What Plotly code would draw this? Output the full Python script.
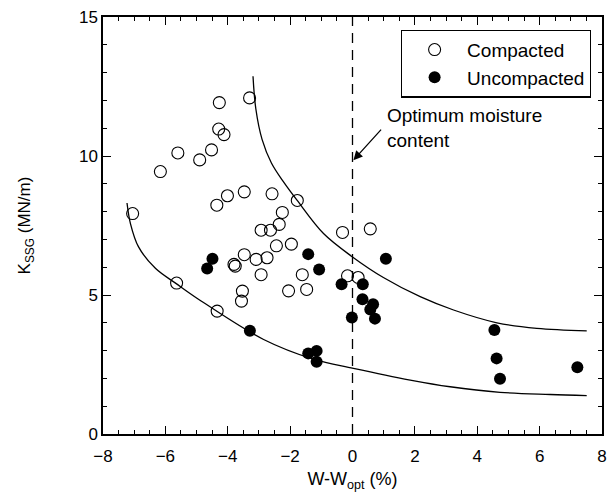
import plotly.graph_objects as go

# Compacted samples
comp_x = [-3.30, -4.27, -4.29, -4.12, -5.60, -4.52, -4.90, -6.16, -7.05, -4.35,
          -4.01, -3.47, -2.58, -1.77, -2.25, -2.35, -2.93, -2.63, -1.96, -2.44,
          -3.47, -3.09, -2.74, -3.80, -3.76, -2.93, -1.61, -3.53, -3.56, -2.05,
          -1.47, -5.64, -4.34, -0.32, 0.57, -0.16, 0.18]
comp_y = [12.09, 11.92, 10.97, 10.77, 10.11, 10.22, 9.86, 9.44, 7.93, 8.23,
          8.57, 8.71, 8.64, 8.40, 7.97, 7.54, 7.33, 7.33, 6.83, 6.77,
          6.45, 6.28, 6.34, 6.10, 6.04, 5.73, 5.73, 5.14, 4.78, 5.15,
          5.20, 5.43, 4.42, 7.25, 7.38, 5.69, 5.63]

# Uncompacted samples
unc_x = [-4.49, -4.66, -1.42, -1.07, -3.29, -1.42, -1.15, -1.15, -0.35, 1.07,
         0.33, 0.32, 0.66, 0.57, 0.72, -0.02, 4.55, 4.62, 4.73, 7.21]
unc_y = [6.30, 5.95, 6.47, 5.92, 3.71, 2.90, 2.99, 2.60, 5.39, 6.30,
         5.39, 4.85, 4.67, 4.48, 4.15, 4.19, 3.74, 2.72, 1.99, 2.40]

# Envelope curves
upper_x = [-3.19, -3.10, -2.90, -2.60, -2.20, -1.78, -0.93, 0.00, 0.99, 2.17, 3.24, 4.63, 5.91, 7.51]
upper_y = [12.87, 11.70, 10.60, 9.75, 9.05, 8.41, 7.21, 6.37, 5.63, 4.94, 4.46, 4.00, 3.80, 3.71]
lower_x = [-7.23, -7.12, -6.86, -6.32, -5.64, -4.94, -2.85, -1.25, 0.03, 1.85, 3.13, 4.73, 6.34, 7.51]
lower_y = [8.31, 7.57, 6.73, 5.96, 5.40, 4.85, 3.40, 2.69, 2.36, 1.94, 1.70, 1.50, 1.42, 1.38]

optimum_x = 0
x_range = [-8, 8]
y_range = [0, 15]

FONT = "Arial, Liberation Sans, sans-serif"

fig = go.Figure()
fig.add_trace(go.Scatter(x=upper_x, y=upper_y, mode="lines", line=dict(color="black", width=1.3, shape="spline"),
                         showlegend=False, hoverinfo="skip"))
fig.add_trace(go.Scatter(x=lower_x, y=lower_y, mode="lines", line=dict(color="black", width=1.3, shape="spline"),
                         showlegend=False, hoverinfo="skip"))
fig.add_trace(go.Scatter(x=[optimum_x, optimum_x], y=y_range, mode="lines",
                         line=dict(color="black", width=1.3, dash="10px,7px"),
                         showlegend=False, hoverinfo="skip"))
fig.add_trace(go.Scatter(x=comp_x, y=comp_y, mode="markers", name="Compacted",
                         marker=dict(symbol="circle-open", size=12, color="black", line=dict(width=1.1))))
fig.add_trace(go.Scatter(x=unc_x, y=unc_y, mode="markers", name="Uncompacted",
                         marker=dict(symbol="circle", size=12, color="black")))

fig.add_annotation(x=optimum_x + 0.03, y=9.85, xref="x", yref="y", ax=29, ay=-32,
                   showarrow=True, arrowhead=2, arrowsize=1.4, arrowwidth=1.3, arrowcolor="black", text="")
fig.add_annotation(x=1.05, y=11.9, xref="x", yref="y", xanchor="left", yanchor="top", align="left",
                   showarrow=False, text="Optimum moisture<br>content",
                   font=dict(family=FONT, size=19, color="black"))

axis_common = dict(showline=True, linecolor="black", linewidth=1.5, mirror="allticks",
                   ticks="inside", ticklen=8, tickwidth=1.2, tickcolor="black",
                   showgrid=False, zeroline=False, automargin=False,
                   tickfont=dict(family=FONT, size=17, color="black"))

fig.update_xaxes(range=x_range, dtick=2, tick0=-8, ticklabelstandoff=6,
                 minor=dict(dtick=0.5, ticks="inside", ticklen=4, tickcolor="black", tickwidth=1),
                 title=dict(text="W-W<sub>opt</sub> (%)", font=dict(family=FONT, size=18, color="black"), standoff=7),
                 **axis_common)
fig.update_yaxes(range=y_range, dtick=5, tick0=0,
                 minor=dict(dtick=1, ticks="inside", ticklen=4, tickcolor="black", tickwidth=1),
                 title=dict(text="K<sub>SSG</sub> (MN/m)", font=dict(family=FONT, size=17, color="black"), standoff=44),
                 **axis_common)

fig.update_layout(width=613, height=497, margin=dict(l=103, r=11, t=17, b=63, autoexpand=False),
                  plot_bgcolor="white", paper_bgcolor="white",
                  legend=dict(x=0.597, y=0.97, xanchor="left", yanchor="top",
                              bordercolor="black", borderwidth=1.2, bgcolor="white",
                              font=dict(family=FONT, size=19, color="black"),
                              itemwidth=55, tracegroupgap=0))
fig.write_html("out.html", config={"displayModeBar": False},
               post_script="document.body.style.margin='0';")
